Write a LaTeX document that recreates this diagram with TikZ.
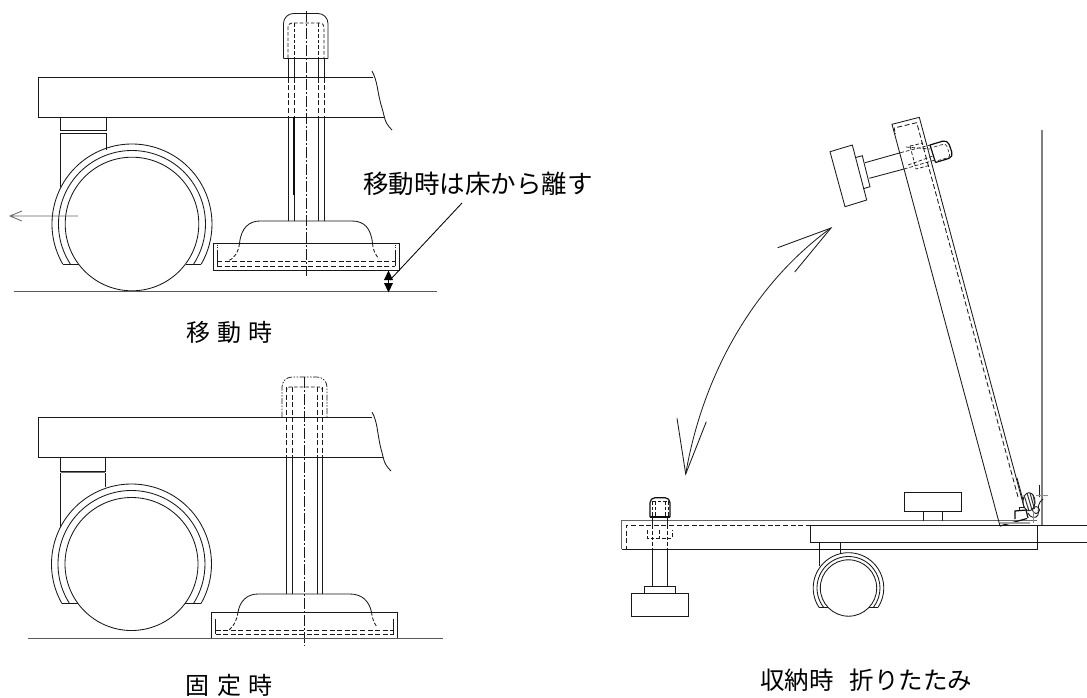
\documentclass[tikz,border=0pt]{standalone}
\usepackage{fontspec}
\newfontfamily\jpfont{Noto Sans CJK JP}
\tikzset{
  ln/.style={line width=0.85pt,black!90},
  dsh/.style={ln,dash pattern=on 5pt off 2.6pt},
  sdsh/.style={ln,dash pattern=on 3.6pt off 2pt},
  ctr/.style={line width=0.7pt,black!90,dash pattern=on 11pt off 2pt on 2pt off 2pt},
  phn/.style={line width=0.7pt,black!90,dash pattern=on 6pt off 1.5pt on 1.5pt off 1.5pt on 1.5pt off 1.5pt},
  thk/.style={line width=1.2pt,black!95},
  gry/.style={line width=1.2pt,black!50},
  lbl/.style={inner sep=0pt,text=black,font=\jpfont\fontsize{24}{26}\selectfont},
}
% wheel: cx cy outer middle inner drop
\newcommand{\whl}[6]{%
  \pgfmathsetmacro{\aO}{asin(#6/#3)}%
  \pgfmathsetmacro{\aM}{asin(#6/#4)}%
  \pgfmathsetmacro{\dI}{sqrt(#5*#5-#6*#6)}%
  \pgfmathsetmacro{\dO}{sqrt(#3*#3-#6*#6)}%
  \draw[ln] (#1,#2) circle[radius=#5];
  \draw[ln] (#1,#2) ++({180-\aO}:#3) arc[start angle={180-\aO},end angle={360+\aO},radius=#3];
  \draw[ln] (#1,#2) ++({180-\aM}:#4) arc[start angle={180-\aM},end angle={360+\aM},radius=#4];
  \draw[ln] ({#1-\dO},{#2+#6}) -- ({#1-\dI},{#2+#6});
  \draw[ln] ({#1+\dO},{#2+#6}) -- ({#1+\dI},{#2+#6});
}
\begin{document}
\begin{tikzpicture}[x=1pt,y=1pt,yscale=-1]
\useasboundingbox (0,0) rectangle (1087,697);
\fill[white] (0,0) rectangle (1087,697);

%% ---------- upper view (moving)
\draw[ln] (373,77.5) -- (38.5,77.5) -- (38.5,117) -- (385,117);
\draw[ln] (372,71) .. controls (378,82) and (377,92) .. (382,108) .. controls (385,118) and (384,122) .. (392,130);
\draw[ln] (60.5,117) -- (60.5,130.5) -- (106,130.5) -- (106,117);
\draw[ln] (60.5,133) -- (106,133);
\draw[ln] (60.5,133) -- (60.5,187);
\draw[ln] (106,133) -- (106,150);
\whl{132}{224}{80}{73.5}{66.8}{40}
\draw[line width=0.8pt,black!60] (78,216) -- (10,216) (22,211) -- (10,216) -- (22,221);
% bolt
\draw[ln] (288,58) -- (288,77.5) (324,58) -- (324,77.5) (294,58) -- (294,77.5) (318,58) -- (318,77.5);
\draw[ln] (288,117) -- (288,221) (324,117) -- (324,221);
\draw[thk] (294,117) -- (294,195);
\draw[ln] (294,195) -- (294,221) (318,117) -- (318,221);
\draw[dsh] (288,77.5) -- (288,117) (294,77.5) -- (294,117) (318,77.5) -- (318,117) (324,77.5) -- (324,117);
\draw[ln,rounded corners=10pt] (283.5,58.5) -- (283.5,13.5) -- (328,13.5) -- (328,58.5);
\draw[ln] (283.5,58.5) -- (328,58.5);
\draw[sdsh,rounded corners=4pt] (288,58) -- (288,23) -- (324,23) -- (324,58);
\draw[sdsh] (294,23) -- (294,58) (318,23) -- (318,58);
\draw[ctr] (306,11) -- (306,276);
% foot
\draw[ln] (213,243.5) rectangle (399,270);
\draw[ln] (239.5,243.5) .. controls (241,228) and (249,221) .. (260,221) -- (352,221) .. controls (364,221) and (371,228) .. (372.5,243.5);
\draw[sdsh] (239.5,243.5) .. controls (238.5,252) and (234,259) .. (228,261);
\draw[sdsh] (372.5,243.5) .. controls (373,250) and (375,254) .. (379,259);
\draw[ln] (217,250) -- (217,266) (395,266) -- (395,250);
\draw[dsh] (217,261) -- (395,261) (217,266) -- (395,266);
\draw[ln,dotted] (217,244.5) -- (217,250) (395,244.5) -- (395,250);
% ground
\draw[line width=0.9pt,black!65] (14,291) -- (437,291);
% double arrow
\draw[thk] (388.5,270.5) -- (388.5,291);
\fill[black] (388.5,270.5) -- (393,280) -- (384,280) -- cycle;
\fill[black] (388.5,292.5) -- (393,283) -- (384,283) -- cycle;
\coordinate (lead) at (390,280);
\node[lbl,font=\jpfont\fontsize{25.5}{28}\selectfont,anchor=west] (note) at (363,183.5) {移動時は床から離す};
\coordinate (leadend) at (462,203);
\draw[line width=0.85pt,black] (lead) -- (leadend);
\node[lbl,anchor=west] (cap1) at (186.5,332) {移\hspace{7pt}動\hspace{7pt}時};

%% ---------- lower view (fixed)
\draw[ln] (372,417.7) -- (38,417.7) -- (38,457.7) -- (383,457.7);
\draw[ln] (372,412) .. controls (378,423) and (377,433) .. (381,449) .. controls (384,459) and (383,463) .. (391,471);
\draw[ln] (60.5,457.7) -- (60.5,471) -- (105,471) -- (105,457.7);
\draw[thk,black!55] (60.5,472.5) -- (105,472.5);
\draw[ln] (60.5,472.5) -- (60.5,527);
\draw[ln] (105,472.5) -- (105,487);
\whl{131.5}{564}{80}{73.5}{66.5}{39.5}
\draw[ln] (286.5,457.7) -- (286.5,594) (292.5,457.7) -- (292.5,594) (317,457.7) -- (317,594) (322.5,457.7) -- (322.5,594);
\draw[dsh] (286.5,387) -- (286.5,457.7) (292.5,387) -- (292.5,457.7) (317,387) -- (317,457.7) (322.5,387) -- (322.5,457.7);
\draw[sdsh,rounded corners=3pt] (286.5,392) -- (286.5,387) -- (322.5,387) -- (322.5,392);
\draw[phn,rounded corners=10pt] (282,417.7) -- (282,377) -- (327,377) -- (327,417.7);
\draw[ctr] (304,377) -- (304,646);
\draw[ln] (211.5,612) rectangle (397.5,638.5);
\draw[ln] (238,612) .. controls (240,601) and (247,594) .. (258,594) -- (350,594) .. controls (362,594) and (369,601) .. (371.5,612);
\draw[sdsh] (238,612) .. controls (237,620) and (234,626) .. (229,630);
\draw[sdsh] (371.5,612) .. controls (372,618) and (374,623) .. (377,627);
\draw[ln] (215.5,619) -- (215.5,634) (393.5,634) -- (393.5,619);
\draw[dsh] (215.5,630) -- (393.5,630) (215.5,634) -- (393.5,634);
\draw[line width=0.9pt,black!65] (28,638.5) -- (443,638.5);
\node[lbl,anchor=west] (cap2) at (185.5,685) {固\hspace{7.5pt}定\hspace{7.5pt}時};

%% ---------- right view (folding)
\draw[gry] (1042,130) -- (1042,525);
% folded flat board
\draw[line width=0.9pt,black!60] (1037,520.7) -- (621.7,520.7) -- (621.7,549.3);
\draw[ln] (621.7,549.3) -- (1037,549.3) -- (1037,525.3);
\draw[ln] (1087,525.3) -- (810.7,525.3) -- (810.7,542.3) -- (1087,542.3);
\draw[dsh] (810.7,525.5) -- (626,525.5) -- (626,549.3);
% left knob, rod and pad
\draw[thk,rounded corners=5pt] (650,517) -- (650,497.7) -- (670,497.7) -- (670,517);
\draw[thk] (650,517) -- (670,517);
\draw[sdsh,line width=.6pt] (652,501) -- (668,501) (652,501) -- (652,517) (668,501) -- (668,517) (655,501) -- (655,517) (665,501) -- (665,517);
\draw[ln] (652,517.7) -- (652,586) (667.5,517.7) -- (667.5,586);
\draw[white,line width=1.3pt] (652,525.5) -- (652,549) (667.5,525.5) -- (667.5,549);
\draw[sdsh,line width=.7pt] (652,520) -- (652,549.3) (667.5,520) -- (667.5,549.3);
\draw[sdsh,line width=.7pt] (647.5,530) -- (647.5,538) -- (672,538) -- (672,530);
\draw[sdsh,line width=.7pt] (659.5,530) -- (659.5,538);
\draw[ln] (644,593.3) -- (644,586) -- (675.5,586) -- (675.5,593.3);
\draw[ln] (631,593.3) rectangle (688.5,616.3);
% top knob on the table
\draw[ln] (904.7,492.5) rectangle (961.5,511.7);
\draw[ln] (923.5,511.7) -- (923.5,520.7) (942.5,511.7) -- (942.5,520.7);
% small caster
\draw[ln] (819.5,542.3) -- (819.5,566) (840,542.3) -- (840,553.5);
\draw[thk] (819.5,549.8) -- (840,549.8);
\whl{848.5}{588}{35.3}{31.5}{28.2}{19.3}
% tilted board
\draw[ln] (1000,526) -- (892,124.3) -- (919.3,117.3) -- (1024,507);
\draw[thk] (1000,526) -- (1027,518.5);
\draw[dsh] (1018,497) -- (916.7,122.7) -- (894,128);
\draw[sdsh] (894,128) -- (895.5,134);
% tilted handle
\draw[ln] (830,151.7) -- (852.3,145) -- (866.7,200) -- (845,206.7) -- cycle;
\draw[ln] (855,157.7) -- (862.3,155.7) -- (870,186.7) -- (863.3,188.7);
\draw[ln] (865,162.7) -- (900.5,152.7) (869.3,178.3) -- (904,169);
\draw[sdsh,line width=.7pt] (900.5,152.7) -- (930,145) (904,169) -- (935,160) (906,147) -- (930,149) (908,165) -- (933,156);
\draw[sdsh,line width=.7pt] (910,146) -- (916,169) -- (931,165);
\draw[sdsh,line width=.7pt] (910,146) -- (923,143);
\draw[thk,rounded corners=5pt] (935.5,162.5) -- (953.5,157) -- (947.5,139.7) -- (930,145);
\draw[thk] (930,145) -- (935.5,162.5);
\draw[sdsh,line width=.6pt,rounded corners=3pt] (934,147) -- (946,143.5) -- (950.5,157) -- (938,160.5);
% arc arrow
\draw[line width=0.8pt,black!90] (831,228) .. controls (755,283) and (703,373) .. (685.7,474);
\draw[ln] (777.7,247.7) -- (831,228) -- (794.7,272);
\draw[ln] (677,418.3) -- (685.7,474) -- (706.3,421.7);
% hinge
\draw[gry,black!35,line width=1.6pt] (1000,522.7) -- (1030,522.7);
\draw[ln] (1017,478) -- (1023,500);
\draw[ln] (1029,501.7) ellipse[x radius=6,y radius=9];
\draw[line width=1pt,black!80] (1024,495) -- (1029,511) (1027,493) -- (1032,510) (1030,493) -- (1034.5,509) (1033,495) -- (1035,504);
\draw[thk] (1015,519) -- (1015,511) -- (1026,510) -- (1028,518);
\draw[ln] (1019,510) -- (1019,507) -- (1025,507);
\draw[ln] (1036,510) circle[radius=3.5];
\draw[ln] (1028,513) .. controls (1030,518) and (1036,519) .. (1038,515) .. controls (1039,511) and (1037,507) .. (1040,502) -- (1043,499);
\draw[ln] (1039.5,485) -- (1039.5,497);
\draw[line width=.6pt,black!45] (1036,495) -- (1048,495) (1033,512) -- (1033,523);
\node[lbl,font=\jpfont\fontsize{24.5}{27}\selectfont,anchor=west] (cap3) at (760,680) {収納時\hspace{16pt}折りたたみ};
\end{tikzpicture}
\end{document}
